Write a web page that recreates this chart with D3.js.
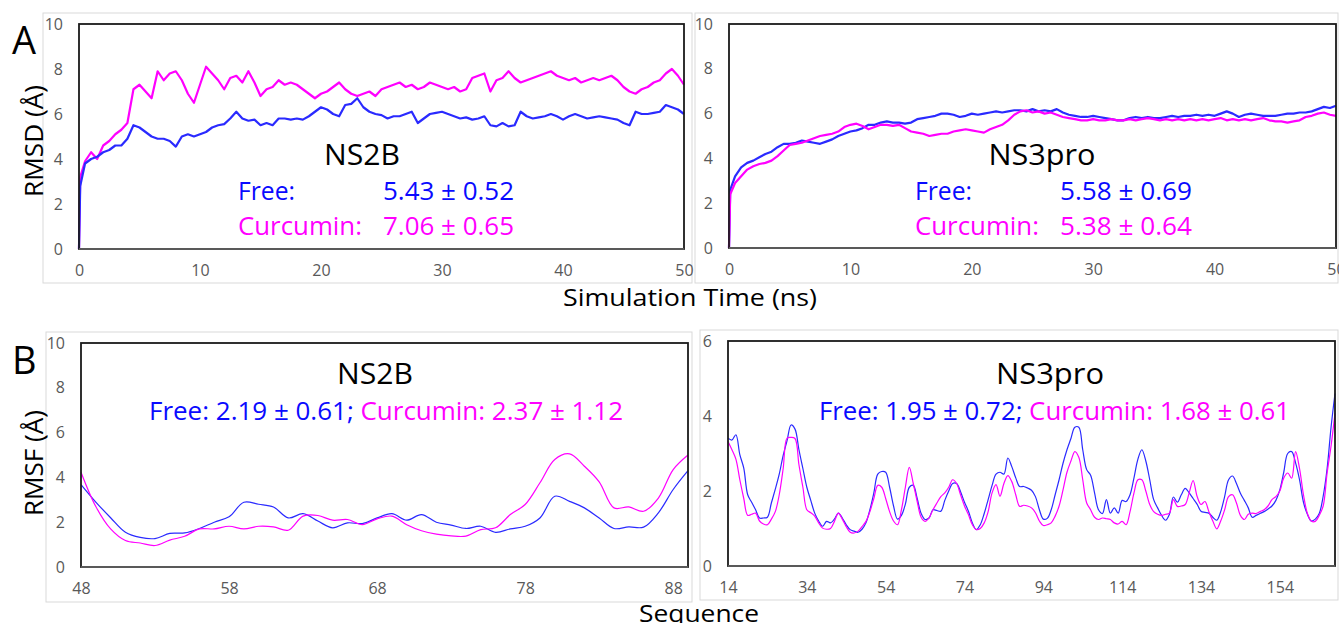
<!DOCTYPE html>
<html>
<head>
<meta charset="utf-8">
<script src="https://cdn.jsdelivr.net/npm/d3@7"></script>
<style>
  body { margin: 0; background: #fff; }
  text { font-family: "Open Sans", sans-serif; }
</style>
</head>
<body>
<script>
// ---- RMSD (A): time in ns, first two points are the 0 -> 0.1 ns start-up
const rmsdTime = [0, 0.1].concat(d3.range(0.5, 50.01, 0.5));

const ns2bFreeRmsd = [0, 2.8,
  3.8, 4.0, 4.1, 4.3, 4.4, 4.6, 4.6, 4.9, 5.5, 5.4,
  5.2, 5.0, 4.9, 4.9, 4.8, 4.55, 5.0, 5.1, 5.0, 5.1,
  5.2, 5.4, 5.5, 5.55, 5.8, 6.1, 5.8, 5.7, 5.75, 5.5,
  5.6, 5.5, 5.8, 5.8, 5.75, 5.8, 5.75, 5.9, 6.1, 6.3,
  6.2, 6.0, 5.9, 6.4, 6.45, 6.7, 6.3, 6.1, 6.0, 5.95,
  5.8, 5.9, 5.9, 6.0, 6.1, 5.6, 5.8, 6.0, 6.05, 6.1,
  6.0, 5.9, 5.8, 5.85, 5.75, 5.8, 5.9, 5.5, 5.45, 5.6,
  5.45, 5.5, 6.1, 5.9, 5.8, 5.85, 5.9, 6.0, 5.9, 5.75,
  5.9, 6.0, 5.9, 5.8, 5.85, 5.9, 5.85, 5.8, 5.75, 5.6,
  5.5, 6.1, 6.0, 6.0, 6.05, 6.1, 6.4, 6.3, 6.2, 6.0];

const ns2bCurcRmsd = [0, 3.2,
  3.9, 4.3, 4.0, 4.6, 4.8, 5.1, 5.3, 5.6, 7.1, 7.3,
  7.0, 6.7, 7.9, 7.5, 7.8, 7.9, 7.5, 6.9, 6.5, 7.3,
  8.1, 7.8, 7.5, 7.1, 7.6, 7.7, 7.4, 7.9, 7.4, 6.8,
  7.1, 7.2, 7.5, 7.3, 7.4, 7.3, 7.1, 6.9, 6.7, 6.9,
  7.0, 7.2, 7.4, 7.1, 6.9, 6.8, 6.9, 7.0, 6.8, 7.1,
  7.2, 7.3, 7.4, 7.2, 7.3, 7.1, 7.2, 7.4, 7.3, 7.2,
  7.1, 7.2, 7.0, 7.1, 7.6, 7.7, 7.8, 7.0, 7.5, 7.6,
  7.9, 7.6, 7.4, 7.5, 7.6, 7.7, 7.8, 7.9, 7.7, 7.6,
  7.5, 7.6, 7.4, 7.5, 7.6, 7.5, 7.6, 7.7, 7.5, 7.2,
  7.0, 6.9, 7.1, 7.2, 7.4, 7.5, 7.8, 8.0, 7.7, 7.3];

const ns3FreeRmsd = [0, 2.6,
  3.2, 3.6, 3.8, 3.9, 4.05, 4.2, 4.3, 4.5, 4.65, 4.65,
  4.7, 4.8, 4.75, 4.7, 4.65, 4.75, 4.85, 5.0, 5.1, 5.2,
  5.25, 5.35, 5.5, 5.5, 5.6, 5.65, 5.6, 5.6, 5.55, 5.6,
  5.75, 5.8, 5.85, 5.9, 6.0, 6.0, 5.95, 5.85, 5.9, 6.0,
  5.95, 6.0, 6.05, 6.1, 6.05, 6.1, 6.15, 6.15, 6.1, 6.2,
  6.1, 6.15, 6.1, 6.2, 6.05, 5.95, 5.9, 5.85, 5.85, 5.9,
  5.85, 5.8, 5.75, 5.7, 5.7, 5.8, 5.85, 5.8, 5.85, 5.8,
  5.8, 5.85, 5.9, 5.85, 5.9, 5.9, 5.95, 5.9, 5.95, 5.9,
  6.0, 6.1, 6.0, 5.85, 5.95, 6.0, 5.95, 5.9, 5.9, 5.9,
  5.95, 6.0, 6.0, 6.05, 6.05, 6.1, 6.2, 6.3, 6.25, 6.35];

const ns3CurcRmsd = [0, 2.4,
  2.9, 3.2, 3.5, 3.65, 3.75, 3.8, 3.9, 4.1, 4.35, 4.6,
  4.65, 4.7, 4.8, 4.9, 5.0, 5.05, 5.1, 5.2, 5.4, 5.5,
  5.55, 5.45, 5.3, 5.4, 5.5, 5.5, 5.45, 5.5, 5.35, 5.2,
  5.15, 5.1, 5.0, 5.05, 5.1, 5.1, 5.2, 5.25, 5.3, 5.25,
  5.2, 5.15, 5.3, 5.4, 5.5, 5.7, 5.95, 6.1, 6.15, 6.05,
  6.1, 6.0, 6.05, 5.95, 5.85, 5.8, 5.75, 5.7, 5.7, 5.75,
  5.7, 5.7, 5.75, 5.7, 5.7, 5.75, 5.7, 5.75, 5.8, 5.75,
  5.7, 5.75, 5.7, 5.75, 5.7, 5.75, 5.7, 5.75, 5.7, 5.75,
  5.8, 5.7, 5.75, 5.7, 5.75, 5.7, 5.75, 5.8, 5.7, 5.65,
  5.65, 5.6, 5.65, 5.7, 5.85, 5.9, 6.0, 6.05, 5.95, 5.9];

// ---- RMSF (B)
const ns2bResidues = d3.range(48, 90);
const ns2bFreeRmsf = [
  3.68, 2.9, 2.2, 1.55, 1.32, 1.27, 1.5, 1.52, 1.72, 2.0,
  2.24, 2.89, 2.8, 2.68, 2.19, 2.38, 2.05, 1.75, 1.97, 1.94,
  2.19, 2.38, 2.09, 2.34, 2.0, 1.87, 1.72, 1.82, 1.55, 1.7,
  1.82, 2.19, 3.16, 2.93, 2.64, 2.19, 1.72, 1.79, 1.78, 2.42,
  3.46, 4.3];
const ns2bCurcRmsf = [
  4.23, 2.7, 1.7, 1.18, 1.07, 0.96, 1.2, 1.37, 1.7, 1.7,
  1.82, 1.7, 1.82, 1.79, 1.64, 2.27, 2.3, 2.09, 2.12, 1.89,
  2.15, 2.27, 1.89, 1.62, 1.47, 1.39, 1.38, 1.67, 1.75, 2.34,
  2.79, 3.76, 4.8, 5.05, 4.5, 3.8, 2.64, 2.68, 2.49, 3.08,
  4.35, 5.0];

const ns3Residues = d3.range(14, 169);
const ns3FreeRmsf = [
  3.41, 3.36, 3.5, 2.97, 2.61, 1.9, 1.7, 1.5, 1.28, 1.28,
  1.3, 1.68, 2.05, 2.45, 2.95, 3.35, 3.76, 3.65, 3.1, 2.6,
  2.1, 1.75, 1.41, 1.2, 1.06, 1.19, 1.15, 1.25, 1.41, 1.28,
  1.1, 0.97, 0.93, 0.9, 0.98, 1.15, 1.5, 1.95, 2.45, 2.52,
  2.5, 2.1, 1.6, 1.25, 1.35, 1.65, 2.1, 2.15, 1.8, 1.4,
  1.24, 1.28, 1.5, 1.48, 1.46, 1.75, 2.0, 2.2, 2.2, 1.98,
  1.7, 1.46, 1.15, 0.97, 1.1, 1.4, 1.77, 2.15, 2.45, 2.5,
  2.45, 2.88, 2.65, 2.35, 2.12, 2.12, 2.08, 2.02, 1.85, 1.5,
  1.25, 1.27, 1.5, 1.9, 2.3, 2.74, 3.1, 3.4, 3.7, 3.7,
  3.1, 2.57, 2.42, 1.95, 1.5, 1.4, 1.77, 1.41, 1.55, 1.41,
  1.75, 1.72, 1.9, 2.35, 2.85, 3.1, 2.8, 2.3, 1.77, 1.55,
  1.35, 1.22, 1.38, 1.84, 1.7, 1.9, 2.07, 1.95, 1.8, 1.65,
  1.46, 1.43, 1.41, 1.3, 1.22, 1.45, 1.85, 2.3, 2.4, 2.2,
  1.94, 1.75, 1.55, 1.3, 1.35, 1.4, 1.45, 1.52, 1.6, 1.75,
  2.03, 2.5, 3.0, 3.05, 2.75, 2.3, 1.7, 1.38, 1.2, 1.25,
  1.4, 1.86, 2.6, 3.7, 4.6];
const ns3CurcRmsf = [
  3.32, 3.1, 2.85, 2.3, 1.8, 1.35, 1.38, 1.41, 1.2, 1.12,
  1.1, 1.25, 1.45, 1.9, 2.6, 3.41, 3.43, 3.4, 2.7, 2.1,
  1.5, 1.42, 1.33, 1.15, 1.01, 0.98, 1.0, 1.19, 1.41, 1.25,
  1.05, 0.9, 0.88, 0.93, 1.05, 1.19, 1.45, 1.8, 2.15, 2.1,
  1.8, 1.45, 1.2, 1.1, 1.5, 2.1, 2.63, 2.2, 1.72, 1.3,
  1.19, 1.28, 1.5, 1.68, 1.85, 1.95, 2.1, 2.3, 2.2, 1.9,
  1.6, 1.37, 1.1, 0.97, 1.0, 1.15, 1.45, 1.95, 2.17, 1.86,
  2.2, 2.41, 2.25, 1.9, 1.59, 1.62, 1.6, 1.55, 1.42, 1.2,
  1.08, 1.1, 1.15, 1.33, 1.6, 2.03, 2.5, 2.8, 3.05, 2.9,
  2.3, 1.68, 1.5, 1.3, 1.24, 1.28, 1.26, 1.24, 1.15, 1.12,
  1.19, 1.1, 1.45, 1.95, 2.3, 2.3, 2.0, 1.64, 1.45, 1.38,
  1.35, 1.38, 1.41, 1.77, 1.59, 1.6, 1.64, 1.95, 2.28, 1.86,
  1.64, 1.72, 1.45, 1.2, 0.99, 1.2, 1.5, 1.85, 1.9, 1.68,
  1.35, 1.24, 1.38, 1.41, 1.4, 1.45, 1.5, 1.6, 1.77, 1.85,
  2.0, 2.35, 2.48, 2.34, 3.05, 2.6, 1.9, 1.4, 1.2, 1.19,
  1.35, 1.6, 2.48, 3.2, 4.07];

// ---- ticks and labels
const rmsdXTicks = [0, 10, 20, 30, 40, 50];
const yTicks10 = [0, 2, 4, 6, 8, 10];
const yTicks6 = [0, 2, 4, 6];
const ns2bXTicks = [48, 58, 68, 78, 88];
const ns3XTicks = [14, 34, 54, 74, 94, 114, 134, 154];

const BLUE = "#2a2aff", MAGENTA = "#ff00ff";
const TXT_BLUE = "#0a0aff";

const svg = d3.select("body").append("svg")
    .attr("width", 1339)
    .attr("height", 623);

function drawPanel(p) {
    const x = d3.scaleLinear().domain(p.xDomain).range([p.box[0], p.box[2]]);
    const y = d3.scaleLinear().domain(p.yDomain).range([p.box[3], p.box[1]]);

    // chart area frame
    svg.append("rect")
        .attr("x", p.frame[0]).attr("y", p.frame[1])
        .attr("width", p.frame[2] - p.frame[0]).attr("height", p.frame[3] - p.frame[1])
        .attr("fill", "none").attr("stroke", "#d9d9d9").attr("stroke-width", 1);

    const line = d3.line().x(d => x(d[0])).y(d => y(d[1])).curve(p.curve);
    p.series.forEach(s => {
        svg.append("path")
            .datum(d3.zip(s.x, s.y))
            .attr("fill", "none")
            .attr("stroke", s.color)
            .attr("stroke-width", p.lineWidth)
            .attr("stroke-linejoin", "round")
            .attr("d", line);
    });

    // plot box
    svg.append("rect")
        .attr("x", p.box[0]).attr("y", p.box[1])
        .attr("width", p.box[2] - p.box[0]).attr("height", p.box[3] - p.box[1])
        .attr("fill", "none").attr("stroke", "#1a1a1a").attr("stroke-width", 1.8);
    svg.append("line")
        .attr("x1", p.box[0]).attr("x2", p.box[2])
        .attr("y1", p.box[3]).attr("y2", p.box[3])
        .attr("stroke", "#595959").attr("stroke-width", 2);

    const yAxis = svg.append("g")
        .attr("transform", `translate(${p.box[0]},0)`)
        .call(d3.axisLeft(y).tickValues(p.yTicks).tickFormat(d3.format("d"))
            .tickSize(0).tickPadding(16));
    const xAxis = svg.append("g")
        .attr("transform", `translate(0,${p.box[3]})`)
        .call(d3.axisBottom(x).tickValues(p.xTicks).tickFormat(d3.format("d"))
            .tickSize(0).tickPadding(16));
    [yAxis, xAxis].forEach(a => {
        a.select(".domain").remove();
        a.selectAll("text")
            .attr("fill", "#595959")
            .style("font-size", "16px")
            .style("font-family", "'Open Sans', sans-serif");
    });
    return {x, y};
}

// A: RMSD
drawPanel({
    frame: [43, 13, 692, 283], box: [79, 24, 684, 249],
    xDomain: [0, 50], yDomain: [0, 10], xTicks: rmsdXTicks, yTicks: yTicks10,
    curve: d3.curveLinear, lineWidth: 2.2,
    series: [
        {x: rmsdTime, y: ns2bCurcRmsd, color: MAGENTA},
        {x: rmsdTime, y: ns2bFreeRmsd, color: BLUE}
    ]
});
drawPanel({
    frame: [695, 13, 1338, 283], box: [729, 24, 1336, 248],
    xDomain: [0, 50], yDomain: [0, 10], xTicks: rmsdXTicks, yTicks: yTicks10,
    curve: d3.curveLinear, lineWidth: 2.2,
    series: [
        {x: rmsdTime, y: ns3FreeRmsd, color: BLUE},
        {x: rmsdTime, y: ns3CurcRmsd, color: MAGENTA}
    ]
});

// B: RMSF
drawPanel({
    frame: [46, 332, 692, 602], box: [81, 343, 688, 567],
    xDomain: [48, 89], yDomain: [0, 10], xTicks: ns2bXTicks, yTicks: yTicks10,
    curve: d3.curveCatmullRom.alpha(0.5), lineWidth: 1.2,
    series: [
        {x: ns2bResidues, y: ns2bFreeRmsf, color: BLUE},
        {x: ns2bResidues, y: ns2bCurcRmsf, color: MAGENTA}
    ]
});
drawPanel({
    frame: [700, 330, 1338, 600], box: [728, 341, 1335, 566],
    xDomain: [14, 168], yDomain: [0, 6], xTicks: ns3XTicks, yTicks: yTicks6,
    curve: d3.curveCatmullRom.alpha(0.5), lineWidth: 1.2,
    series: [
        {x: ns3Residues, y: ns3FreeRmsf, color: BLUE},
        {x: ns3Residues, y: ns3CurcRmsf, color: MAGENTA}
    ]
});

// text helper
function txt(x, y, s, size, color, anchor, len) {
    const t = svg.append("text")
        .attr("x", x).attr("y", y)
        .attr("font-size", size)
        .attr("fill", color || "#000")
        .attr("text-anchor", anchor || "start")
        .text(s);
    if (len) t.attr("textLength", len).attr("lengthAdjust", "spacingAndGlyphs");
    return t;
}

// panel letters and axis titles
txt(12, 54, "A", 38, "#000");
txt(12, 374, "B", 38, "#000");
txt(0, 0, "RMSD (Å)", 26, "#000", "middle", 112).attr("transform", "translate(43,141) rotate(-90)");
txt(0, 0, "RMSF (Å)", 26, "#000", "middle", 106).attr("transform", "translate(43,463) rotate(-90)");
txt(690, 306, "Simulation Time (ns)", 24, "#000", "middle", 254);
txt(699, 622, "Sequence", 24, "#000", "middle", 120);

// A annotations
txt(362, 165, "NS2B", 30, "#000", "middle", 76);
txt(238, 200, "Free:", 25, TXT_BLUE, "start", 57);
txt(383, 200, "5.43 ± 0.52", 25, TXT_BLUE, "start", 131);
txt(238, 235, "Curcumin:", 25, MAGENTA, "start", 124);
txt(383, 235, "7.06 ± 0.65", 25, MAGENTA, "start", 131);

txt(1042, 165, "NS3pro", 30, "#000", "middle", 107);
txt(915, 200, "Free:", 25, TXT_BLUE, "start", 57);
txt(1060, 200, "5.58 ± 0.69", 25, TXT_BLUE, "start", 132);
txt(915, 235, "Curcumin:", 25, MAGENTA, "start", 124);
txt(1060, 235, "5.38 ± 0.64", 25, MAGENTA, "start", 132);

// B annotations
txt(375, 384, "NS2B", 30, "#000", "middle", 76);
txt(1050, 384, "NS3pro", 30, "#000", "middle", 108);

function statsLine(x, y, free, curc, len) {
    const t = svg.append("text")
        .attr("x", x).attr("y", y)
        .attr("font-size", 25)
        .attr("textLength", len).attr("lengthAdjust", "spacingAndGlyphs");
    t.append("tspan").attr("fill", TXT_BLUE).text("Free: " + free + "; ");
    t.append("tspan").attr("fill", MAGENTA).text("Curcumin: " + curc);
}
statsLine(149, 420, "2.19 ± 0.61", "2.37 ± 1.12", 474);
statsLine(819, 420, "1.95 ± 0.72", "1.68 ± 0.61", 471);
</script>
</body>
</html>
